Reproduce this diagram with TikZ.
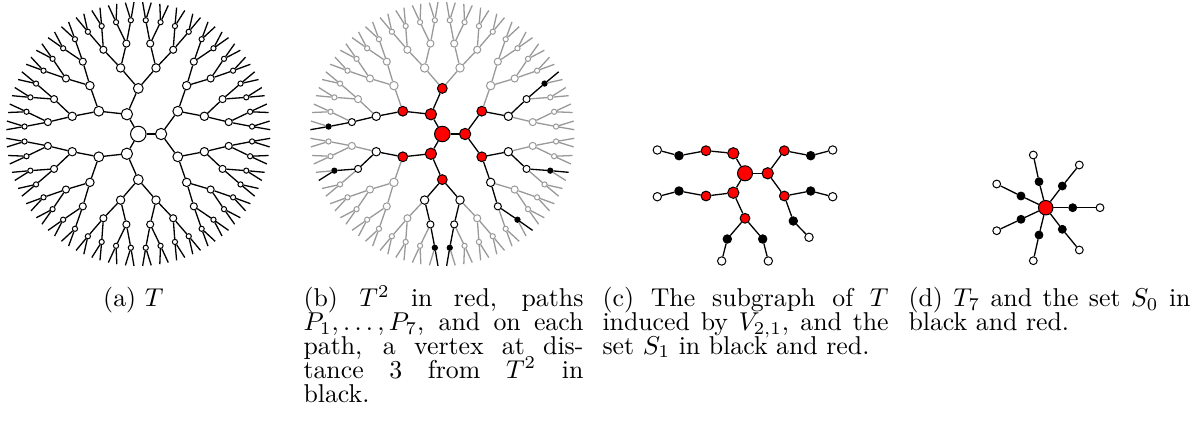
\documentclass[tikz,border=0pt]{standalone}
\makeatletter
\newcommand\setonp[2]{\edef\tmp@a{\noexpand\in@{,#1,}{,#2,}}\tmp@a\ifin@\gdef\onp{1}\else\gdef\onp{0}\fi}
\makeatother
\newcommand\capfont{\fontsize{10}{9.25}\selectfont\lineskiplimit=-100pt\relax}
\definecolor{treegray}{gray}{0.6}
\tikzset{
  vtx/.style={circle, inner sep=0pt, line width=1.0pt, draw=black, fill=white},
  redv/.style={vtx, fill=red},
  blackv/.style={vtx, fill=black},
  grayv/.style={vtx, draw=treegray},
  edge/.style={line width=1.3pt, draw=black},
  grayedge/.style={line width=1.3pt, draw=treegray},
  captext/.style={scale=2.58, align=left, inner sep=0pt, anchor=base west, font=\capfont},
}
\expandafter\def\csname pl1\endcsname{0,1,2}
\expandafter\def\csname pl2\endcsname{0,1,2,3,4,5}
\expandafter\def\csname pl3\endcsname{0,1,2,7,8,10,11}
\expandafter\def\csname pl4\endcsname{0,2,5,15,17,21,22}
\expandafter\def\csname pl5\endcsname{1,5,11,31,34,43,44}
\expandafter\def\csname pl6\endcsname{3,11,23,63,69,87,88}
\newlength\capw
\setlength\capw{108.5pt}
\begin{document}
\begin{tikzpicture}[x=1pt,y=-1pt]
\useasboundingbox (0,0) rectangle (1199,439);

% ---------- (a) ----------
\def\cx{138.3}\def\cy{134}
\node[vtx, minimum size=15.5pt] (a0) at (\cx,\cy) {};
\foreach \k in {1,...,5} {
  \pgfmathtruncatemacro\n{3*2^(\k-1)-1}
  \pgfmathsetmacro\d{120/2^(\k-1)}
  \pgfmathsetmacro\s{{15.5,11.3,9.8,8.4,7.1,5.2}[\k]}
  \foreach \i in {0,...,\n} {
    \pgfmathsetmacro\ang{\d*\i-(120-\d)/2}
    \node[vtx, minimum size=\s pt] (a\k-\i) at ({\cx+22.8*\k*cos(\ang)},{\cy-22.8*\k*sin(\ang)}) {};
  }
}
\foreach \i in {0,...,95} {
  \pgfmathsetmacro\ang{3.75*\i-58.125}
  \coordinate (a6-\i) at ({\cx+132*cos(\ang)},{\cy-132*sin(\ang)});
}
\foreach \i in {0,1,2} \draw[edge] (a0) -- (a1-\i);
\foreach \k in {2,...,6} {
  \pgfmathtruncatemacro\km{\k-1}
  \pgfmathtruncatemacro\n{3*2^(\k-1)-1}
  \foreach \i in {0,...,\n} {
    \pgfmathtruncatemacro\p{floor(\i/2)}
    \draw[edge] (a\km-\p) -- (a\k-\i);
  }
}

% ---------- (b) ----------
\def\bx{442.3}\def\by{134}
\node[redv, minimum size=15.5pt] (b0) at (\bx,\by) {};
\foreach \k in {1,...,5} {
  \pgfmathtruncatemacro\n{3*2^(\k-1)-1}
  \pgfmathsetmacro\d{120/2^(\k-1)}
  \pgfmathsetmacro\s{{15.5,11.3,9.8,8.4,7.1,5.2}[\k]}
  \foreach \i in {0,...,\n} {
    \pgfmathsetmacro\ang{\d*\i-(120-\d)/2}
    \setonp{\i}{\csname pl\k\endcsname}
    \ifnum\k<3
      \node[redv, minimum size=\s pt] (b\k-\i) at ({\bx+22.8*\k*cos(\ang)},{\by-22.8*\k*sin(\ang)}) {};
    \else\ifnum\onp=1
      \ifnum\k=5
        \node[blackv, minimum size=\s pt] (b\k-\i) at ({\bx+22.8*\k*cos(\ang)},{\by-22.8*\k*sin(\ang)}) {};
      \else
        \node[vtx, minimum size=\s pt] (b\k-\i) at ({\bx+22.8*\k*cos(\ang)},{\by-22.8*\k*sin(\ang)}) {};
      \fi
    \else
      \node[grayv, minimum size=\s pt] (b\k-\i) at ({\bx+22.8*\k*cos(\ang)},{\by-22.8*\k*sin(\ang)}) {};
    \fi\fi
  }
}
\foreach \i in {0,...,95} {
  \pgfmathsetmacro\ang{3.75*\i-58.125}
  \coordinate (b6-\i) at ({\bx+132*cos(\ang)},{\by-132*sin(\ang)});
}
\foreach \i in {0,1,2} \draw[edge] (b0) -- (b1-\i);
\foreach \k in {2,...,6} {
  \pgfmathtruncatemacro\km{\k-1}
  \pgfmathtruncatemacro\n{3*2^(\k-1)-1}
  \foreach \i in {0,...,\n} {
    \pgfmathtruncatemacro\p{floor(\i/2)}
    \setonp{\i}{\csname pl\k\endcsname}
    \ifnum\onp=1
      \draw[edge] (b\km-\p) -- (b\k-\i);
    \else
      \draw[grayedge] (b\km-\p) -- (b\k-\i);
    \fi
  }
}

% ---------- (c) ----------
\node[redv, minimum size=15pt] (c0) at (745,173.3) {};
\node[redv, minimum size=11.3pt] (cR) at (767.7,173.3) {};
\node[redv, minimum size=11.3pt] (cU) at (733.3,153.3) {};
\node[redv, minimum size=11.3pt] (cL) at (733.3,192.7) {};
\node[redv, minimum size=9.8pt] (cA) at (706,150.7) {};
\node[redv, minimum size=9.8pt] (cB) at (706,196) {};
\node[redv, minimum size=9.8pt] (cC) at (745,218.3) {};
\node[redv, minimum size=9.8pt] (cD) at (784.3,150.7) {};
\node[redv, minimum size=9.8pt] (cE) at (784.3,196) {};
\node[blackv, minimum size=8.4pt] (kA) at (679,155.7) {};
\node[vtx, minimum size=8.4pt] (wA) at (657.3,150) {};
\node[blackv, minimum size=8.4pt] (kB) at (679,191) {};
\node[vtx, minimum size=8.4pt] (wB) at (657.3,196.7) {};
\node[blackv, minimum size=8.4pt] (kC1) at (727.3,239) {};
\node[vtx, minimum size=8.4pt] (wC1) at (721.7,261) {};
\node[blackv, minimum size=8.4pt] (kC2) at (762.7,239) {};
\node[vtx, minimum size=8.4pt] (wC2) at (768.3,261) {};
\node[blackv, minimum size=8.4pt] (kD) at (810.7,155.7) {};
\node[vtx, minimum size=8.4pt] (wD) at (832.7,150) {};
\node[blackv, minimum size=8.4pt] (kE1) at (810.7,191) {};
\node[vtx, minimum size=8.4pt] (wE1) at (832.7,196.7) {};
\node[blackv, minimum size=8.4pt] (kE2) at (793.3,221) {};
\node[vtx, minimum size=8.4pt] (wE2) at (809,237.3) {};
\foreach \u/\v in {c0/cR,c0/cU,c0/cL,cU/cA,cL/cB,cL/cC,cR/cD,cR/cE,
  cA/kA,kA/wA,cB/kB,kB/wB,cC/kC1,kC1/wC1,cC/kC2,kC2/wC2,cD/kD,kD/wD,cE/kE1,kE1/wE1,cE/kE2,kE2/wE2}
  \draw[edge] (\u) -- (\v);

% ---------- (d) ----------
\node[redv, minimum size=14.5pt] (d0) at (1045.7,207.7) {};
\foreach \j/\bxx/\byy/\wxx/\wyy in {1/1039/181.7/1033.3/155, 2/1062.3/186/1079.3/165, 3/1021/196/996.7/184,
  4/1072.7/207.7/1100/207.7, 5/1021/219.3/996.7/230.7, 6/1062.3/229.3/1079.3/250, 7/1039/235/1033.3/260.7} {
  \node[blackv, minimum size=7.8pt] (dk\j) at (\bxx,\byy) {};
  \node[vtx, minimum size=7.8pt] (dw\j) at (\wxx,\wyy) {};
  \draw[edge] (d0) -- (dk\j);
  \draw[edge] (dk\j) -- (dw\j);
}

% ---------- captions ----------
\node[captext] (capa) at (102.7,306) {(a) $T$};
\node[captext] (capb) at (303,402) {\makebox[\capw][s]{(b) $T^2$ in red, paths}\\
\makebox[\capw][s]{$P_1,\ldots,P_7$, and on each}\\
\makebox[\capw][s]{path, a vertex at dis-}\\
\makebox[\capw][s]{tance 3 from $T^2$ in}\\
black.};
\node[captext] (capc) at (602,354) {\makebox[110.9pt][s]{(c) The subgraph of $T$}\\
\makebox[110.9pt][s]{induced by $V_{2,1}$, and the}\\
set $S_1$ in black and red.};
\node[captext] (capd) at (908,330) {\makebox[109.3pt][s]{(d) $T_7$ and the set $S_0$ in}\\
black and red.};
\end{tikzpicture}
\end{document}
